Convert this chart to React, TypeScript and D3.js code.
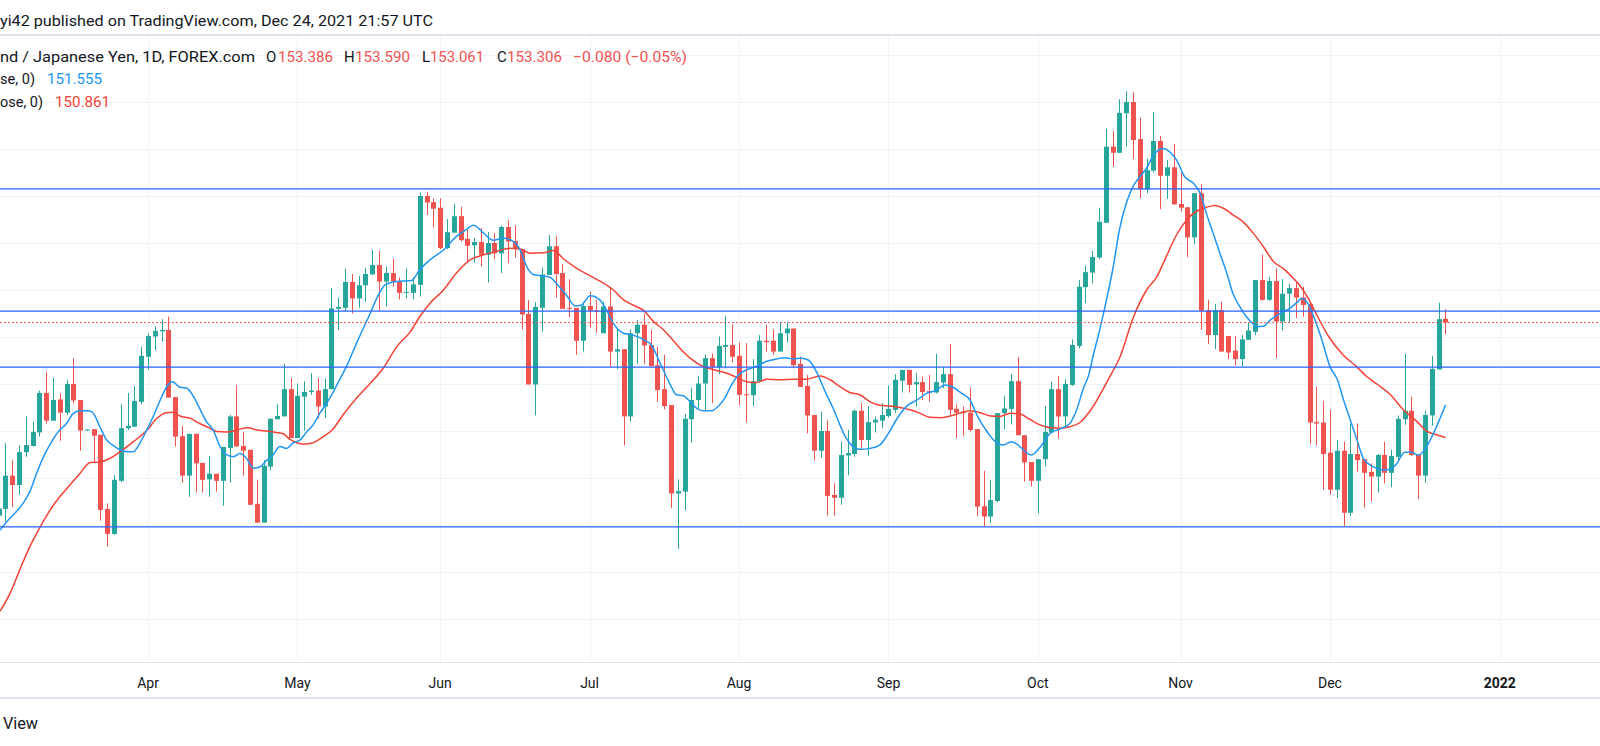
import React from "react";
import * as d3 from "d3";

const WIDTH = 1600;
const HEIGHT = 746;
const CHART_TOP = 36;
const CHART_BOTTOM = 662;

// Daily bars (weekdays) starting 2021-03-01
const opens = [
  148.95, 149.20, 149.34, 150.05, 149.85, 150.55, 150.68, 150.97, 151.81, 151.22,
  151.67, 151.39, 152.00, 151.66, 151.02, 151.04, 150.92, 149.34, 148.81, 149.94,
  151.06, 151.09, 151.62, 152.58, 153.01, 153.12, 153.15, 151.72, 150.89, 150.05,
  150.94, 150.32, 149.97, 150.09, 149.94, 150.64, 151.31, 150.68, 150.60, 149.45,
  149.05, 150.24, 151.25, 151.31, 151.89, 150.85, 151.73, 151.83, 151.86, 151.52,
  151.89, 153.60, 153.62, 154.17, 153.82, 154.10, 154.33, 154.53, 154.18, 154.36,
  154.18, 153.94, 153.94, 154.11, 156.00, 155.87, 155.75, 154.89, 155.22, 155.57,
  155.09, 154.95, 155.02, 154.75, 155.00, 154.78, 155.34, 155.04, 154.87, 153.49,
  151.99, 153.62, 154.32, 154.93, 154.36, 153.62, 153.62, 152.92, 153.66, 153.57,
  153.08, 153.65, 152.69, 152.74, 151.31, 153.08, 153.26, 152.83, 152.40, 151.89,
  151.55, 149.67, 149.71, 151.25, 151.66, 152.01, 152.55, 152.36, 152.79, 152.83,
  152.60, 151.78, 151.76, 152.05, 152.92, 152.92, 152.69, 153.08, 153.18, 152.43,
  151.96, 151.34, 150.58, 151.00, 149.64, 149.58, 150.48, 150.51, 151.43, 150.81,
  151.18, 151.22, 151.32, 151.45, 152.07, 152.30, 151.99, 152.04, 151.85, 151.82,
  152.03, 152.21, 151.47, 151.41, 151.39, 151.04, 149.40, 149.18, 149.51, 151.38,
  151.47, 152.06, 150.91, 150.34, 149.94, 150.40, 150.97, 151.89, 151.31, 151.98,
  152.81, 154.06, 154.37, 154.69, 155.43, 157.05, 156.92, 157.76, 158.00, 157.21,
  156.14, 156.54, 157.17, 156.43, 156.61, 155.83, 155.76, 155.12, 156.06, 153.57,
  153.04, 153.57, 153.02, 152.71, 152.53, 152.94, 153.11, 154.21, 153.79, 154.19,
  153.33, 153.92, 154.04, 153.84, 153.70, 151.19, 151.18, 150.54, 149.75, 150.58,
  149.26, 150.51, 150.40, 150.13, 150.03, 150.49, 150.11, 150.45, 151.25, 151.43,
  150.49, 150.05, 151.33, 152.31, 153.386,
];

const highs = [
  149.30, 149.60, 150.74, 150.38, 150.70, 151.31, 151.20, 151.86, 152.26, 152.13,
  151.80, 152.09, 152.55, 151.66, 151.04, 151.04, 150.92, 149.46, 150.06, 151.57,
  151.81, 151.96, 152.79, 153.08, 153.22, 153.38, 153.43, 151.72, 151.11, 150.94,
  150.94, 150.32, 150.47, 150.09, 150.66, 151.34, 151.98, 150.98, 150.60, 149.96,
  150.38, 151.27, 151.57, 152.43, 152.13, 152.01, 152.06, 152.23, 152.13, 152.12,
  154.04, 153.84, 154.45, 154.34, 154.30, 154.47, 154.85, 154.83, 154.50, 154.67,
  154.27, 154.46, 154.27, 156.07, 156.09, 155.95, 155.95, 155.51, 155.83, 155.77,
  155.29, 155.11, 155.32, 155.23, 155.21, 155.37, 155.49, 155.38, 154.87, 153.79,
  153.74, 154.48, 155.17, 155.15, 154.55, 154.23, 153.62, 153.75, 153.97, 153.79,
  153.75, 154.05, 153.16, 152.74, 153.16, 153.36, 153.49, 153.15, 152.79, 152.62,
  151.55, 149.97, 151.36, 151.92, 152.17, 152.62, 152.65, 153.01, 153.45, 153.26,
  152.88, 152.87, 152.53, 153.04, 153.26, 153.16, 153.31, 153.31, 153.18, 152.58,
  152.19, 151.34, 151.41, 151.23, 149.89, 150.77, 151.02, 151.46, 151.60, 151.53,
  151.31, 151.60, 151.96, 152.21, 152.30, 152.30, 152.24, 152.16, 152.19, 152.64,
  152.36, 152.85, 151.57, 151.52, 151.93, 151.04, 150.15, 149.96, 151.38, 151.75,
  152.21, 152.57, 150.91, 150.34, 150.40, 151.53, 152.05, 152.17, 152.10, 152.95,
  154.21, 154.52, 154.83, 155.75, 157.43, 157.38, 158.06, 158.23, 158.21, 157.67,
  156.80, 157.79, 157.28, 156.77, 157.11, 156.50, 155.76, 156.06, 156.26, 153.79,
  153.70, 153.75, 153.02, 153.02, 153.04, 153.31, 154.21, 154.75, 154.28, 154.46,
  154.23, 154.13, 154.16, 154.07, 153.75, 151.94, 151.64, 151.45, 150.81, 150.77,
  151.15, 151.16, 150.40, 150.31, 150.51, 150.77, 150.60, 151.33, 152.64, 151.73,
  150.49, 151.43, 152.60, 153.73, 153.590,
];

const lows = [
  148.70, 148.90, 149.07, 149.38, 149.64, 150.45, 150.67, 150.88, 151.16, 151.22,
  150.79, 151.34, 151.59, 150.58, 151.01, 150.35, 149.09, 148.54, 148.79, 149.91,
  151.02, 151.09, 151.57, 152.31, 152.72, 152.90, 151.71, 150.67, 149.90, 149.60,
  149.69, 149.69, 149.60, 149.71, 149.41, 149.90, 150.67, 150.05, 149.43, 149.05,
  149.05, 150.16, 151.25, 151.31, 150.85, 150.85, 151.01, 151.77, 151.26, 151.28,
  151.89, 153.15, 153.54, 153.50, 153.62, 153.75, 154.33, 153.55, 153.65, 154.07,
  153.80, 153.82, 153.80, 153.86, 155.60, 155.33, 154.87, 154.87, 155.22, 155.03,
  154.58, 154.58, 154.50, 154.16, 154.66, 154.36, 154.57, 154.69, 153.16, 151.99,
  151.33, 153.11, 154.32, 153.84, 153.60, 153.42, 152.62, 152.69, 153.20, 153.09,
  153.08, 152.37, 152.31, 150.69, 151.20, 152.43, 152.43, 152.38, 151.62, 151.46,
  149.36, 148.49, 149.31, 150.75, 151.48, 151.45, 151.59, 152.21, 152.33, 152.45,
  151.55, 151.18, 151.53, 152.05, 152.69, 152.62, 152.69, 152.88, 152.36, 151.94,
  150.95, 150.37, 150.43, 149.20, 149.20, 149.43, 150.06, 150.45, 150.63, 150.47,
  150.97, 151.06, 151.29, 151.38, 151.82, 151.82, 151.52, 151.66, 151.62, 151.80,
  151.91, 151.34, 150.84, 150.89, 150.99, 149.19, 148.97, 149.04, 149.48, 151.04,
  151.14, 150.91, 149.92, 149.82, 149.25, 150.24, 150.97, 150.84, 151.09, 151.96,
  152.76, 153.72, 154.14, 154.66, 155.43, 156.62, 156.91, 157.05, 156.79, 155.95,
  156.06, 156.50, 155.72, 155.94, 155.82, 155.67, 154.70, 154.98, 153.15, 152.85,
  152.74, 152.69, 152.53, 152.40, 152.38, 152.94, 153.04, 153.77, 153.77, 152.55,
  153.14, 153.31, 153.40, 153.43, 150.72, 150.70, 149.75, 149.64, 149.57, 148.98,
  149.19, 150.14, 149.37, 149.50, 149.69, 149.89, 149.80, 150.35, 151.13, 150.47,
  149.55, 149.90, 151.11, 152.31, 153.061,
];

const closes = [
  149.20, 149.35, 150.05, 149.85, 150.55, 150.70, 150.98, 151.81, 151.22, 151.66,
  151.39, 152.00, 151.65, 151.01, 151.03, 150.90, 149.32, 148.81, 149.96, 151.06,
  151.11, 151.64, 152.60, 153.02, 153.13, 153.15, 151.71, 150.88, 150.05, 150.94,
  150.31, 149.96, 150.09, 149.94, 150.66, 151.31, 150.67, 150.58, 149.43, 149.05,
  150.26, 151.26, 151.32, 151.89, 150.85, 151.75, 151.83, 151.86, 151.52, 151.89,
  153.61, 153.64, 154.17, 153.82, 154.10, 154.34, 154.53, 154.18, 154.36, 154.18,
  153.94, 153.96, 154.12, 156.00, 155.86, 155.73, 154.89, 155.23, 155.57, 155.06,
  154.94, 155.02, 154.75, 155.00, 154.78, 155.34, 155.03, 154.87, 153.48, 151.99,
  153.64, 154.33, 154.93, 154.34, 153.60, 153.60, 152.92, 153.66, 153.56, 153.54,
  153.65, 152.69, 152.74, 151.31, 153.08, 153.26, 152.82, 152.38, 151.87, 151.53,
  149.67, 149.72, 151.26, 151.66, 152.01, 152.55, 152.36, 152.81, 152.83, 152.58,
  151.77, 151.76, 152.06, 152.92, 152.89, 152.69, 153.08, 153.18, 152.40, 151.94,
  151.33, 150.58, 151.00, 149.62, 149.58, 150.49, 150.53, 151.43, 150.81, 151.19,
  151.24, 151.34, 151.47, 152.09, 152.30, 151.98, 152.04, 151.83, 151.82, 152.04,
  152.21, 151.45, 151.39, 151.38, 151.02, 149.39, 149.18, 149.53, 151.38, 151.48,
  152.06, 150.91, 150.33, 149.94, 150.40, 150.98, 151.89, 151.31, 152.00, 152.83,
  154.07, 154.38, 154.70, 155.45, 157.05, 156.92, 157.77, 158.00, 157.19, 156.14,
  156.55, 157.17, 156.43, 156.61, 155.82, 155.75, 155.12, 156.06, 153.56, 153.04,
  153.57, 152.69, 152.67, 152.53, 152.95, 153.14, 154.21, 153.79, 154.19, 153.33,
  153.92, 154.04, 153.84, 153.68, 151.18, 151.16, 150.51, 149.75, 150.58, 149.26,
  150.51, 150.38, 150.11, 150.03, 150.49, 150.11, 150.47, 151.26, 151.43, 150.49,
  150.05, 151.34, 152.32, 153.38, 153.306,
];

// Moving averages: [bar index, price]
const maFast: [number, number][] = [
  [1.2, 148.89], [2.2, 149.07], [3.4, 149.25], [4.6, 149.46], [5.6, 149.71], [6.6, 150.10], [7.6, 150.45],
  [8.8, 150.77], [9.8, 150.99], [11, 151.16], [11.9, 151.36], [13, 151.43], [14, 151.43], [14.8, 151.40],
  [15.9, 151.09], [16.9, 150.81], [17.9, 150.69], [18.9, 150.60], [19.9, 150.56], [20.8, 150.56], [21.8, 150.74],
  [22.8, 151.02], [23.8, 151.32], [24.8, 151.66], [25.7, 151.93], [26.6, 152.05], [27.7, 151.93], [28.7, 151.91],
  [29.7, 151.73], [30.6, 151.48], [31.6, 151.20], [32.6, 151.02], [33.6, 150.67], [34.6, 150.49], [35.6, 150.45],
  [36.5, 150.52], [37.5, 150.42], [38.5, 150.21], [39.5, 150.24], [40.5, 150.38], [41.4, 150.49], [42.4, 150.67],
  [43.4, 150.63], [44.4, 150.75], [45.4, 150.81], [46.4, 150.99], [47.3, 151.13], [48.3, 151.38], [49.3, 151.59],
  [50.3, 151.84], [51.3, 152.12], [52.2, 152.37], [53.7, 152.87], [55.7, 153.50], [56.9, 153.89], [57.9, 154.11],
  [59.6, 154.18], [61.8, 154.20], [63, 154.43], [64.5, 154.64], [66.5, 154.85], [68.4, 155.14], [69.9, 155.29],
  [70.9, 155.38], [72.4, 155.21], [73.8, 155.06], [75.3, 155.10], [76.8, 155.03], [77.8, 154.85], [78.7, 154.51],
  [79.7, 154.33], [81.2, 154.30], [82.2, 154.27], [83.1, 154.14], [84.6, 153.89], [85.9, 153.66], [86.8, 153.68],
  [88.1, 153.88], [89.5, 153.79], [90.5, 153.57], [91.5, 153.29], [93, 153.08], [94.4, 153.04], [96, 152.94],
  [97.1, 152.83], [98.4, 152.44], [99.8, 152.01], [100.8, 151.77], [101.8, 151.75], [102.8, 151.62], [103.8, 151.48],
  [104.7, 151.43], [106, 151.43], [106.9, 151.52], [107.9, 151.70], [108.9, 151.98], [109.9, 152.19], [111.1, 152.30],
  [112.6, 152.38], [114, 152.48], [115.5, 152.53], [116.8, 152.56], [118, 152.53], [119.2, 152.55], [120.2, 152.51],
  [121.4, 152.26], [122.8, 151.80], [123.8, 151.50], [124.8, 151.15], [125.5, 150.92], [126.3, 150.74], [127.8, 150.61],
  [129.3, 150.63], [130.7, 150.70], [132, 150.95], [133.2, 151.25], [134.7, 151.53], [136.2, 151.66], [137.6, 151.80],
  [139.1, 151.87], [140.3, 151.98], [141.5, 151.93], [142.8, 151.80], [144, 151.66], [145.2, 151.29], [146.5, 150.99],
  [147.4, 150.82], [148.9, 150.70], [150.1, 150.77], [151.1, 150.70], [152, 150.58], [153, 150.49], [154.3, 150.65],
  [155.8, 150.95], [157.2, 151.04], [158.7, 151.16], [159.7, 151.45], [160.7, 151.91], [161.5, 152.20], [162.1, 152.58],
  [163.1, 153.15], [164.1, 153.79], [165.1, 154.50], [166, 155.28], [167, 155.84], [168, 156.20], [169, 156.41],
  [170, 156.59], [170.9, 156.84], [172.4, 157.01], [173.4, 156.94], [174.4, 156.77], [175.6, 156.41], [176.9, 156.27],
  [177.9, 156.06], [178.8, 155.63], [179.8, 155.21], [180.8, 154.78], [181.8, 154.36], [182.7, 153.93], [183.7, 153.65],
  [184.7, 153.43], [185.6, 153.29], [186.2, 153.22], [187.2, 153.23], [188.2, 153.36], [189.1, 153.45], [190.1, 153.54],
  [191.1, 153.61], [192.1, 153.73], [192.8, 153.82], [193.8, 153.70], [194.8, 153.36], [195.8, 152.94], [197, 152.37],
  [198.1, 152.09], [199, 151.66], [200, 151.23], [200.9, 150.84], [201.9, 150.42], [202.9, 150.28], [203.8, 150.21],
  [204.8, 150.17], [205.8, 150.18], [206.8, 150.30], [208, 150.55], [209, 150.55], [210, 150.49], [211, 150.61],
  [212, 150.88], [213, 151.20], [214, 151.555],
];

const maSlow: [number, number][] = [
  [1.2, 147.16], [2.7, 147.55], [4.1, 148.04], [5.6, 148.54], [7.1, 148.95], [8.6, 149.32], [10, 149.60],
  [11.5, 149.85], [13, 150.10], [14.5, 150.33], [15.9, 150.34], [17.4, 150.42], [18.9, 150.56], [20.8, 150.77],
  [22.8, 151.01], [24.3, 151.27], [25.7, 151.39], [26.7, 151.40], [27.7, 151.32], [29.2, 151.27], [30.6, 151.16],
  [32.1, 151.06], [33.1, 150.99], [34.6, 150.98], [35.6, 151.00], [36.5, 151.04], [37.8, 151.07], [39, 151.02],
  [40.5, 151.00], [41.9, 150.97], [42.9, 150.94], [43.9, 150.82], [44.9, 150.75], [45.9, 150.72], [47.3, 150.75],
  [48.8, 150.88], [50.1, 151.02], [51.7, 151.34], [53.7, 151.70], [55.7, 152.01], [57.6, 152.33], [59.6, 152.79],
  [61.6, 153.11], [63, 153.43], [64.5, 153.72], [66.5, 154.00], [68.4, 154.36], [70.4, 154.64], [72.4, 154.75],
  [74.3, 154.82], [76.3, 154.89], [77.8, 154.87], [79.3, 154.78], [81.2, 154.79], [82.7, 154.84], [84.1, 154.67],
  [86.1, 154.46], [88.1, 154.30], [91.5, 154.00], [93, 153.79], [94.4, 153.68], [96, 153.56], [97.4, 153.33],
  [98.9, 153.15], [99.8, 153.01], [101.3, 152.76], [102.8, 152.55], [104.3, 152.40], [106.2, 152.31], [108.2, 152.23],
  [109.7, 152.14], [111.1, 152.05], [112.6, 152.03], [114.1, 152.10], [116, 152.09], [118, 152.10], [119.9, 152.10],
  [121.9, 152.17], [123.4, 152.09], [124.9, 151.94], [126.3, 151.82], [127.8, 151.77], [129.3, 151.62], [130.7, 151.55],
  [132.2, 151.53], [133.7, 151.50], [135.2, 151.45], [136.6, 151.38], [138.1, 151.29], [139.6, 151.28], [141.1, 151.32],
  [142.5, 151.38], [144, 151.43], [145.5, 151.39], [147, 151.32], [148.4, 151.31], [149.9, 151.38], [151.4, 151.36],
  [152.8, 151.25], [154.3, 151.13], [155.8, 151.07], [157.2, 151.06], [158.7, 151.09], [160.2, 151.18], [161.7, 151.43],
  [164.6, 152.16], [166.1, 152.58], [168, 153.40], [170, 154.00], [171.5, 154.28], [172.9, 154.71], [174.4, 155.17],
  [175.9, 155.49], [177.3, 155.67], [178.8, 155.76], [180, 155.80], [181.3, 155.74], [182.7, 155.60], [184.2, 155.45],
  [185.7, 155.21], [187.2, 154.92], [188.7, 154.60], [190.1, 154.46], [191.6, 154.25], [192.6, 154.09], [193.8, 153.82],
  [194.8, 153.54], [196.8, 153.01], [198.9, 152.62], [200.9, 152.37], [202.4, 152.16], [203.9, 152.00], [205.9, 151.77],
  [207.8, 151.45], [209.8, 151.20], [211.3, 150.99], [212.7, 150.92], [214, 150.861],
];

// Horizontal drawn levels and last price
const levelLines = [156.15, 153.55, 152.36, 148.96];
const lastPrice = 153.306;

// Visible window (bar index range and price range)
const VIEW_BARS: [number, number] = [1.207, 236.75];
const VIEW_PRICES: [number, number] = [146.085, 159.404];

const FIRST_DAY = Date.UTC(2021, 2, 1);

const UP = "#26a69a";
const DOWN = "#ef5350";
const FAST = "#2196f3";
const SLOW = "#f44336";
const LEVEL = "#2962ff";
const GRID = "#f0f3fa";
const BORDER = "#e0e3eb";
const TEXT = "#131722";
const FONT = "Roboto, 'Noto Sans', sans-serif";

function businessDays(start: number, n: number): Date[] {
  const out: Date[] = [];
  const d = new Date(start);
  while (out.length < n) {
    const wd = d.getUTCDay();
    if (wd !== 0 && wd !== 6) out.push(new Date(d.getTime()));
    d.setUTCDate(d.getUTCDate() + 1);
  }
  return out;
}

export default function App() {
  const n = closes.length;
  const dates = businessDays(FIRST_DAY, n);
  const x = d3.scaleLinear().domain(VIEW_BARS).range([0, WIDTH]);
  const y = d3.scaleLinear().domain(VIEW_PRICES).range([CHART_BOTTOM, CHART_TOP]);
  const step = x(1) - x(0);
  const bodyW = Math.max(1, Math.round(step * 0.72));

  const fmt = d3.utcFormat("%b");
  const ticks: { i: number; label: string; bold: boolean }[] = [];
  for (let i = 1; i < n; i++) {
    if (dates[i].getUTCMonth() !== dates[i - 1].getUTCMonth()) {
      const jan = dates[i].getUTCMonth() === 0;
      ticks.push({ i, label: jan ? String(dates[i].getUTCFullYear()) : fmt(dates[i]), bold: jan });
    }
  }
  const last = dates[n - 1];
  const nextYear = Date.UTC(last.getUTCFullYear() + 1, 0, 1);
  const daysAhead = Math.round((nextYear - last.getTime()) / 86400000);
  ticks.push({ i: n - 1 + daysAhead, label: String(last.getUTCFullYear() + 1), bold: true });

  const priceTicks = y.ticks(14).filter((t) => Number.isInteger(t));

  const line = d3
    .line<[number, number]>()
    .x((d) => x(d[0]))
    .y((d) => y(d[1]))
    .curve(d3.curveMonotoneX);

  return (
    <div style={{ position: "fixed", left: 0, top: 0, width: WIDTH, height: HEIGHT, background: "#fff" }}>
      <svg width={WIDTH} height={HEIGHT} style={{ display: "block" }} fontFamily={FONT}>
        <defs>
          <clipPath id="plot">
            <rect x={0} y={CHART_TOP} width={WIDTH} height={CHART_BOTTOM - CHART_TOP} />
          </clipPath>
        </defs>
        <rect x={0} y={0} width={WIDTH} height={HEIGHT} fill="#ffffff" />

        {/* title */}
        <text x={0} y={20.5} dy="0.35em" fontSize={15} fill={TEXT} textLength={433} lengthAdjust="spacingAndGlyphs">
          yi42 published on TradingView.com, Dec 24, 2021 21:57 UTC
        </text>
        <rect x={0} y={34} width={WIDTH} height={2} fill={BORDER} />

        {/* grid */}
        <g clipPath="url(#plot)">
          {priceTicks.map((t) => (
            <line key={"h" + t} x1={0} x2={WIDTH} y1={Math.round(y(t)) + 0.5} y2={Math.round(y(t)) + 0.5} stroke={GRID} strokeWidth={1} />
          ))}
          {ticks.map((t) => (
            <line key={"v" + t.i} x1={Math.round(x(t.i)) + 0.5} x2={Math.round(x(t.i)) + 0.5} y1={CHART_TOP} y2={CHART_BOTTOM} stroke={GRID} strokeWidth={1} />
          ))}
        </g>

        {/* candles */}
        <g clipPath="url(#plot)">
          {closes.map((c, i) => {
            const o = opens[i];
            const up = c >= o;
            const col = up ? UP : DOWN;
            const cx = Math.round(x(i));
            const yTop = y(Math.max(o, c));
            const yBot = y(Math.min(o, c));
            const bh = Math.max(1, yBot - yTop);
            return (
              <g key={i}>
                <rect x={cx} y={y(highs[i])} width={1} height={Math.max(1, y(lows[i]) - y(highs[i]))} fill={col} />
                <rect x={cx - Math.floor(bodyW / 2)} y={yTop} width={bodyW} height={bh} fill={col} />
              </g>
            );
          })}
        </g>

        {/* moving averages */}
        <g clipPath="url(#plot)" fill="none">
          <path d={line(maSlow) || ""} stroke={SLOW} strokeWidth={1.5} />
          <path d={line(maFast) || ""} stroke={FAST} strokeWidth={1.5} />
        </g>

        {/* drawn levels and last price */}
        <g clipPath="url(#plot)">
          {levelLines.map((p) => (
            <line key={"l" + p} x1={0} x2={WIDTH} y1={y(p)} y2={y(p)} stroke={LEVEL} strokeWidth={1.3} />
          ))}
          <line x1={0} x2={WIDTH} y1={y(lastPrice)} y2={y(lastPrice)} stroke={DOWN} strokeWidth={1} strokeDasharray="2 2" />
        </g>

        {/* legend */}
        <g fontSize={15}>
          <text x={0} y={57} dy="0.35em" fill={TEXT} textLength={255} lengthAdjust="spacingAndGlyphs">
            nd / Japanese Yen, 1D, FOREX.com
          </text>
          <text x={266} y={57} dy="0.35em" fill={TEXT}>O</text>
          <text x={278} y={57} dy="0.35em" fill={DOWN} textLength={55} lengthAdjust="spacingAndGlyphs">153.386</text>
          <text x={344} y={57} dy="0.35em" fill={TEXT}>H</text>
          <text x={355} y={57} dy="0.35em" fill={DOWN} textLength={55} lengthAdjust="spacingAndGlyphs">153.590</text>
          <text x={422} y={57} dy="0.35em" fill={TEXT}>L</text>
          <text x={430} y={57} dy="0.35em" fill={DOWN} textLength={54} lengthAdjust="spacingAndGlyphs">153.061</text>
          <text x={497} y={57} dy="0.35em" fill={TEXT}>C</text>
          <text x={507} y={57} dy="0.35em" fill={DOWN} textLength={55} lengthAdjust="spacingAndGlyphs">153.306</text>
          <text x={573} y={57} dy="0.35em" fill={DOWN} textLength={114} lengthAdjust="spacingAndGlyphs">−0.080 (−0.05%)</text>

          <text x={0} y={79} dy="0.35em" fill={TEXT} textLength={35} lengthAdjust="spacingAndGlyphs">se, 0)</text>
          <text x={47} y={79} dy="0.35em" fill={FAST} textLength={55} lengthAdjust="spacingAndGlyphs">151.555</text>

          <text x={0} y={102} dy="0.35em" fill={TEXT} textLength={43} lengthAdjust="spacingAndGlyphs">ose, 0)</text>
          <text x={55} y={102} dy="0.35em" fill={SLOW} textLength={55} lengthAdjust="spacingAndGlyphs">150.861</text>
        </g>

        {/* time axis */}
        <rect x={0} y={CHART_BOTTOM} width={WIDTH} height={1} fill={BORDER} />
        <g fontSize={14} fill={TEXT} textAnchor="middle">
          {ticks.map((t) => (
            <text key={"t" + t.i} x={x(t.i)} y={683} dy="0.35em" fontWeight={t.bold ? 700 : 400}>
              {t.label}
            </text>
          ))}
        </g>
        <rect x={0} y={697} width={WIDTH} height={2} fill={BORDER} />

        {/* footer */}
        <text x={3} y={723} dy="0.35em" fontSize={16} fill={TEXT} textLength={35} lengthAdjust="spacingAndGlyphs">
          View
        </text>
      </svg>
    </div>
  );
}
